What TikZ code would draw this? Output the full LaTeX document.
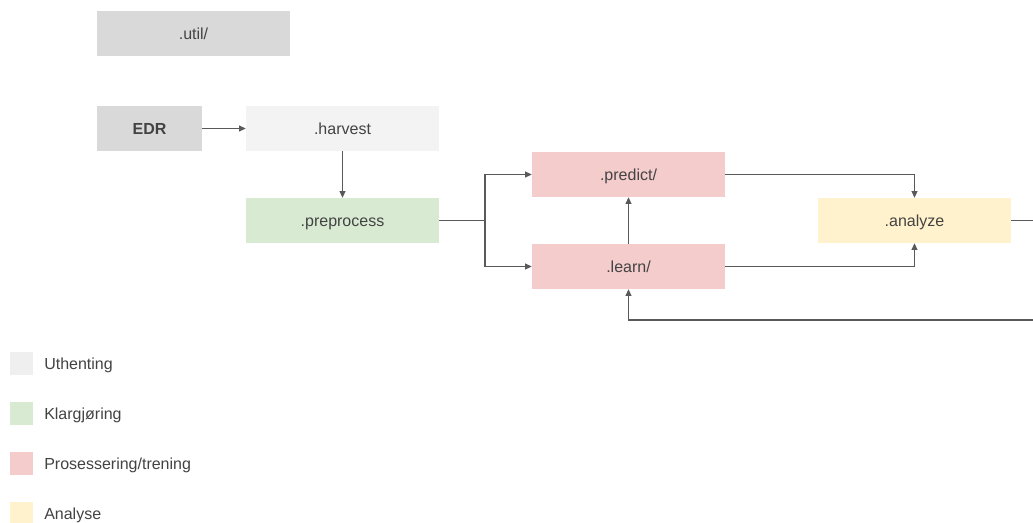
\documentclass[tikz,border=0pt]{standalone}
\usepackage{fontspec}
\setmainfont{Liberation Sans}
\usetikzlibrary{arrows.meta}
\definecolor{txt}{HTML}{434343}
\definecolor{ln}{HTML}{595959}
\definecolor{grayA}{HTML}{D9D9D9}
\definecolor{grayB}{HTML}{F3F3F3}
\definecolor{grayL}{HTML}{EFEFEF}
\definecolor{greenA}{HTML}{D9EAD3}
\definecolor{redA}{HTML}{F4CCCC}
\definecolor{yellowA}{HTML}{FFF2CC}
\tikzset{
  box/.style={draw=none, minimum width=193*0.75pt, minimum height=45*0.75pt,
    inner sep=0pt, text=txt, font=\fontsize{12}{14}\selectfont,
    text height=8.6pt, text depth=0pt},
  conn/.style={draw=ln, line width=0.8pt, -{Triangle[length=5pt,width=4.5pt]}},
  plain/.style={draw=ln, line width=0.8pt},
  swatch/.style={minimum size=23*0.75pt, inner sep=0pt},
  legtext/.style={text=txt, anchor=west, inner sep=0pt, font=\fontsize{12}{14}\selectfont}
}
\begin{document}
\begin{tikzpicture}[x=0.75pt, y=-0.75pt]
\useasboundingbox (0,0) rectangle (1033,522);
\clip (0,0) rectangle (1033,522);
\fill[white] (0,0) rectangle (1033,522);

% modules
\node[box, fill=grayA] (util) at (193.5,33.5) {.util/};
\node[box, fill=grayA, minimum width=105*0.75pt, font=\fontsize{12}{14}\selectfont\bfseries] (edr) at (149.5,128.5) {EDR};
\node[box, fill=grayB] (harvest) at (342.5,128.5) {.harvest};
\node[box, fill=greenA] (preprocess) at (342.5,220.5) {.preprocess};
\node[box, fill=redA] (predict) at (628.5,174.5) {.predict/};
\node[box, fill=redA] (learn) at (628.5,266.5) {.learn/};
\node[box, fill=yellowA] (analyze) at (914.5,220.5) {.analyze};

\coordinate (split) at (485,220.5);
\coordinate (outR) at (1045,220.5);
\coordinate (back) at (1045,320);

% data flow
\draw[conn] (edr) -- (harvest);
\draw[conn] (harvest) -- (preprocess);
\draw[plain] (preprocess) -- (split);
\draw[conn] (split) |- (predict);
\draw[conn] (split) |- (learn);
\draw[conn] (learn) -- (predict);
\draw[conn] (predict) -| (analyze);
\draw[conn] (learn) -| (analyze);
\draw[conn] (analyze.east) -- (outR) -- (back) -| (learn.south);

% legend
\node[swatch, fill=grayL] (s1) at (21.5,363.5) {};
\node[legtext] at (44,365) {Uthenting};
\node[swatch, fill=greenA] (s2) at (21.5,413.5) {};
\node[legtext] at (44,415) {Klargjøring};
\node[swatch, fill=redA] (s3) at (21.5,463.5) {};
\node[legtext] at (44,465) {Prosessering/trening};
\node[swatch, fill=yellowA] (s4) at (21.5,513.5) {};
\node[legtext] at (44,515) {Analyse};
\end{tikzpicture}
\end{document}
